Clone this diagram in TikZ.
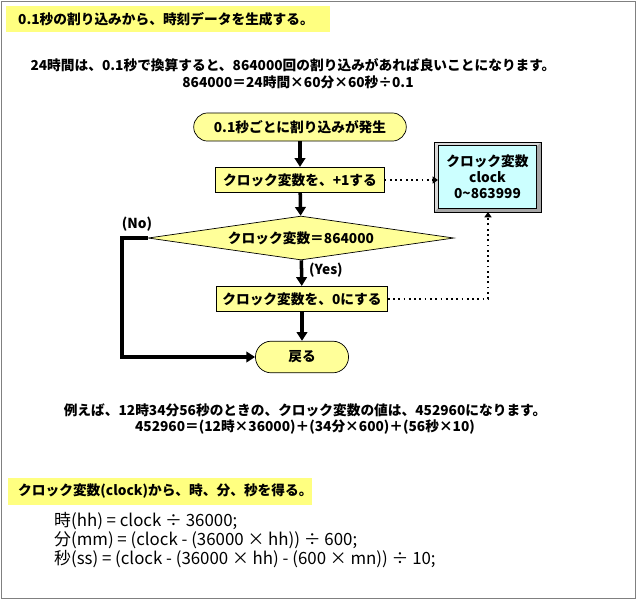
\documentclass[tikz,border=0pt]{standalone}
\usepackage{fontspec}
\setmainfont{Noto Sans CJK JP}
\usetikzlibrary{shapes.geometric,arrows.meta}
\definecolor{flowyellow}{RGB}{255,255,153}
\definecolor{hiyellow}{RGB}{255,255,128}
\definecolor{clockcyan}{RGB}{204,255,255}
\tikzset{
  txt/.style={font=\fontsize{7.8}{9}\selectfont\bfseries},
  term/.style={txt, draw, fill=flowyellow, rounded corners=14\pgflinewidth, minimum height=16pt},
  proc/.style={txt, draw, fill=flowyellow, minimum height=14.5pt},
  flow/.style={-{Triangle[length=5pt,width=6pt]}, line width=2pt},
  link/.style={-{Triangle[length=3pt,width=4pt]}, dotted, line width=1pt},
}
\begin{document}
\begin{tikzpicture}[x=0.02cm, y=-0.02cm]
  \useasboundingbox (0,0) rectangle (637,600);
  \draw[gray] (1,1) rectangle (635,598);

  % headings
  \fill[hiyellow] (6,6) rectangle (330,32);
  \node[txt, anchor=west] (head1) at (12,19) {0.1秒の割り込みから、時刻データを生成する。};
  \node[txt] (note1) at (293,65) {24時間は、0.1秒で換算すると、864000回の割り込みがあれば良いことになります。};
  \node[txt] (note2) at (298,82) {864000＝24時間×60分×60秒÷0.1};

  % flow
  \node[term, rounded corners=8pt, minimum width=121pt] (start) at (300,127) {0.1秒ごとに割り込みが発生};
  \node[proc, minimum width=96pt] (inc) at (300,180) {クロック変数を、+1する};
  \node[txt, diamond, aspect=7, draw, fill=flowyellow, minimum width=174pt, minimum height=25pt, inner sep=0pt] (check) at (301,238) {クロック変数＝864000};
  \node[proc, minimum width=97pt] (reset) at (302,299) {クロック変数を、0にする};
  \node[term, rounded corners=9pt, minimum width=53pt, minimum height=18pt] (ret) at (302,357) {戻る};

  % clock variable
  \fill[gray!70] (434,142) rectangle (541,212);
  \fill[gray!30] (434,142) -- (541,142) -- (535,148) -- (440,148) -- (440,206) -- (434,212) -- cycle;
  \draw (434,142) rectangle (541,212);
  \node[txt, draw, fill=clockcyan, minimum width=56pt, minimum height=36pt, align=center, inner sep=1pt] (clock) at (487.5,177) {クロック変数\\clock\\0\textasciitilde863999};

  \draw[flow] (start) -- (inc);
  \draw[flow] (inc) -- (check);
  \draw[flow] (check) -- node[txt, right, pos=0.4] {(Yes)} (reset);
  \draw[flow] (reset) -- (ret);
  \draw[flow] (check.west) -- ++(-26,0) |- (ret.west);
  \node[txt] (no) at (137,224) {(No)};
  \draw[link] (inc.east) -- (inc.east -| clock.west);
  \draw[link] (reset.east) -| (488,212);

  % example
  \node[txt] (note3) at (305,410) {例えば、12時34分56秒のときの、クロック変数の値は、452960になります。};
  \node[txt] (note4) at (305,427) {452960＝(12時×36000)＋(34分×600)＋(56秒×10)};

  \fill[hiyellow] (8,478) rectangle (312,505);
  \node[txt, anchor=west] (head2) at (12,491) {クロック変数(clock)から、時、分、秒を得る。};
  \node[font=\fontsize{9.6}{8.6}\selectfont, anchor=west, align=left] (code) at (48,540) {時(hh) = clock ÷ 36000;\\分(mm) = (clock - (36000 × hh)) ÷ 600;\\秒(ss) = (clock - (36000 × hh) - (600 × mn)) ÷ 10;};
\end{tikzpicture}
\end{document}
